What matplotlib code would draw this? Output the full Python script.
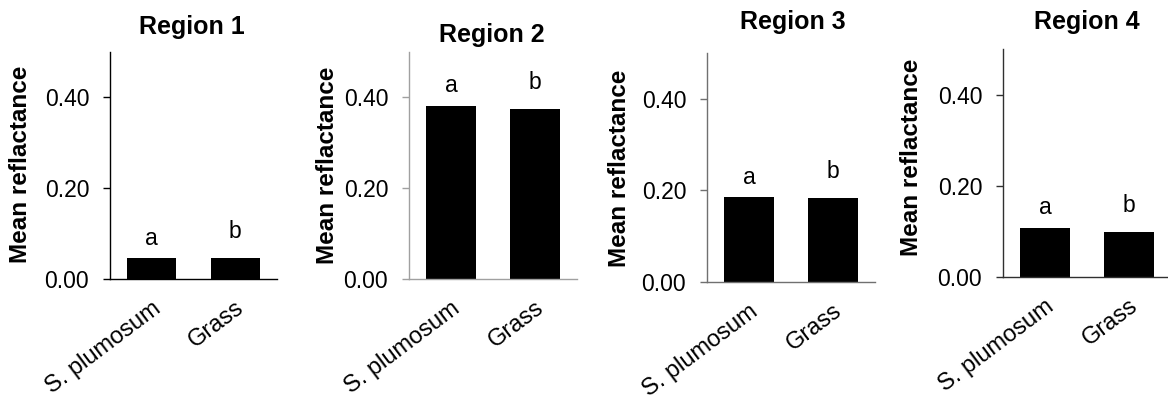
import matplotlib
matplotlib.use("Agg")
import matplotlib.pyplot as plt
from matplotlib.ticker import FormatStrFormatter

plt.rcParams['font.family'] = ['Liberation Sans', 'DejaVu Sans']

# Data
categories = ["S. plumosum", "Grass"]
regions = ["Region 1", "Region 2", "Region 3", "Region 4"]
region1 = [0.046, 0.046]
region2 = [0.382, 0.374]
region3 = [0.185, 0.183]
region4 = [0.108, 0.099]
letters = ["a", "b"]
y_ticks = [0.0, 0.2, 0.4]
ylabel = "Mean reflactance"

W, H = 1168, 400
fig = plt.figure(figsize=(W / 100, H / 100), dpi=100)

# pixel boxes (left, right, top, bottom) for each panel
boxes = [(110, 277, 52, 279), (409, 577, 52, 279), (707, 875, 53, 282), (1003, 1171, 49, 277)]
title_pos = [(192, 27), (492, 35), (793, 22), (1087, 22)]
ylabel_pos = [(21, 164), (328, 165), (620, 168), (912, 157)]
axis_colors = ["#000000", "#a0a0a0", "#707070", "#303030"]
letter_offsets = [6, 11]

series = [region1, region2, region3, region4]

for i, vals in enumerate(series):
    l, r, t, b = boxes[i]
    ax = fig.add_axes([l / W, (H - b) / H, (r - l) / W, (b - t) / H])
    x = list(range(len(categories)))
    ax.bar(x, vals, width=0.59, color="black")
    ax.set_xlim(-0.5, 1.5)
    ax.set_ylim(0, 0.5)
    ax.set_yticks(y_ticks)
    ax.yaxis.set_major_formatter(FormatStrFormatter('%.2f'))
    ax.set_xticks(x)
    ax.set_xticklabels(categories, rotation=37, ha="right", va="top",
                       rotation_mode="anchor", fontsize=17)
    for s in ["top", "right"]:
        ax.spines[s].set_visible(False)
    col = axis_colors[i]
    for s in ["left", "bottom"]:
        ax.spines[s].set_color(col)
        ax.spines[s].set_linewidth(1.0)
    ax.tick_params(axis="y", direction="out", length=5, width=1.0, color=col,
                   labelsize=16.5, pad=10)
    ax.tick_params(axis="x", length=0, pad=13)
    for j, v in enumerate(vals):
        ax.annotate(letters[j], (x[j], v), xytext=(0, letter_offsets[j]),
                    textcoords="offset points", ha="center", va="bottom", fontsize=16.5)
    tx, ty = title_pos[i]
    fig.text(tx / W, (H - ty) / H, regions[i], ha="center", va="center",
             fontsize=18, fontweight="bold")
    lx, ly = ylabel_pos[i]
    fig.text(lx / W, (H - ly) / H, ylabel, ha="center", va="center",
             rotation=90, fontsize=17.5, fontweight="bold")

fig.savefig("out.png", dpi=100)
